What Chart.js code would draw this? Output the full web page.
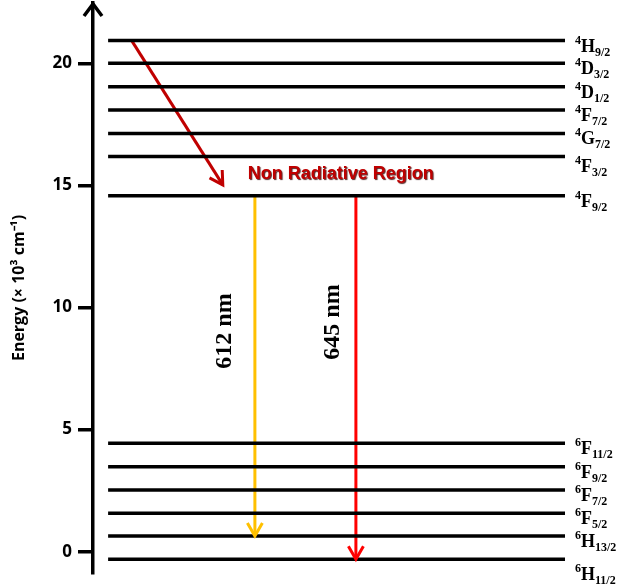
<!DOCTYPE html>
<html>
<head>
<meta charset="utf-8">
<script src="https://cdn.jsdelivr.net/npm/chart.js@4.4.1/dist/chart.umd.min.js"></script>
<style>
  html, body { margin: 0; padding: 0; background: #fff; }
  #wrap { width: 624px; height: 585px; }
</style>
</head>
<body>
<div id="wrap"><canvas id="levels" width="624" height="585"></canvas></div>
<script>
// Energy levels (x 10^3 cm^-1)
const levelMult = ['4', '4', '4', '4', '4', '4', '4', '6', '6', '6', '6', '6', '6'];
const levelTerm = ['H', 'D', 'D', 'F', 'G', 'F', 'F', 'F', 'F', 'F', 'F', 'H', 'H'];
const levelJ = ['9/2', '3/2', '1/2', '7/2', '7/2', '3/2', '9/2', '11/2', '9/2', '7/2', '5/2', '13/2', '11/2'];
const levelEnergy = [20.93, 20.0, 19.04, 18.09, 17.13, 16.18, 14.58, 4.44, 3.48, 2.53, 1.57, 0.64, -0.31];
const yTicks = [0, 5, 10, 15, 20];

// transitions (x in 0..100 across the diagram, y in energy units)
const arrowName = ['relax', '612 nm', '645 nm'];
const arrowX0 = [8.2, 34.3, 55.7];
const arrowX1 = [27.5, 34.3, 55.7];
const arrowE0 = [20.93, 14.58, 14.58];
const arrowE1 = [15.02, 0.64, -0.31];

const levelStart = 3.2, levelEnd = 100;
const arrowColors = ['#c00000', '#ffc000', '#ff0000'];

const datasets = [];
levelEnergy.forEach(function (e, i) {
  datasets.push({
    label: levelMult[i] + levelTerm[i] + levelJ[i],
    data: [{ x: levelStart, y: e }, { x: levelEnd, y: e }],
    borderColor: '#000',
    borderWidth: 3.5,
    pointRadius: 0
  });
});
arrowName.forEach(function (n, i) {
  datasets.push({
    label: n,
    isArrow: true,
    data: [{ x: arrowX0[i], y: arrowE0[i] }, { x: arrowX1[i], y: arrowE1[i] }],
    borderColor: arrowColors[i],
    borderWidth: 3,
    pointRadius: 0
  });
});

const extras = {
  id: 'extras',
  afterDatasetsDraw(chart) {
    const ctx = chart.ctx;
    const xs = chart.scales.x, ys = chart.scales.y;
    const area = chart.chartArea;
    ctx.save();

    // axis arrow head
    ctx.strokeStyle = '#000';
    ctx.lineWidth = 3.5;
    ctx.lineCap = 'butt';
    ctx.beginPath();
    ctx.moveTo(area.left - 9, area.top + 13);
    ctx.lineTo(area.left, area.top + 1);
    ctx.lineTo(area.left + 9, area.top + 13);
    ctx.stroke();

    // arrow heads on transitions
    chart.data.datasets.forEach(function (ds, di) {
      if (!ds.isArrow) return;
      const pts = chart.getDatasetMeta(di).data;
      const a = pts[0], b = pts[1];
      const ang = Math.atan2(b.y - a.y, b.x - a.x);
      const len = 15, spread = Math.PI / 6;
      ctx.strokeStyle = ds.borderColor;
      ctx.lineWidth = 3;
      ctx.beginPath();
      ctx.moveTo(b.x - len * Math.cos(ang - spread), b.y - len * Math.sin(ang - spread));
      ctx.lineTo(b.x, b.y);
      ctx.lineTo(b.x - len * Math.cos(ang + spread), b.y - len * Math.sin(ang + spread));
      ctx.stroke();
    });

    // level labels
    ctx.fillStyle = '#000';
    ctx.textAlign = 'left';
    ctx.textBaseline = 'alphabetic';
    levelEnergy.forEach(function (e, i) {
      let base = ys.getPixelForValue(e) + 11;
      if (i === 5) base += 4;
      if (i === 12) base += 10;
      let x = area.right + 10;
      ctx.font = 'bold 12px "Liberation Serif"';
      ctx.fillText(levelMult[i], x, base - 8);
      x += ctx.measureText(levelMult[i]).width;
      ctx.font = 'bold 18px "Liberation Serif"';
      ctx.fillText(levelTerm[i], x, base);
      x += ctx.measureText(levelTerm[i]).width;
      ctx.font = 'bold 12px "Liberation Serif"';
      ctx.fillText(levelJ[i], x, base + 4);
    });

    // non radiative region text
    ctx.font = 'bold 18px "Liberation Sans"';
    ctx.textAlign = 'center';
    ctx.shadowColor = 'rgba(60,0,0,0.85)';
    ctx.shadowOffsetX = 1;
    ctx.shadowOffsetY = 1;
    ctx.shadowBlur = 1;
    ctx.fillStyle = '#c00000';
    ctx.fillText('Non Radiative Region', xs.getPixelForValue(52.5), ys.getPixelForValue(15.25));
    ctx.shadowColor = 'transparent';

    // wavelength labels
    ctx.fillStyle = '#000';
    ctx.font = 'bold 24px "Liberation Serif"';
    ctx.textBaseline = 'middle';
    [[1, -30, 331], [2, -23, 322]].forEach(function (w) {
      const i = w[0];
      ctx.save();
      ctx.translate(xs.getPixelForValue(arrowX0[i]) + w[1], w[2]);
      ctx.rotate(-Math.PI / 2);
      ctx.fillText(arrowName[i], 0, 0);
      ctx.restore();
    });
    ctx.restore();
  }
};

new Chart(document.getElementById('levels'), {
  type: 'line',
  data: { datasets: datasets },
  plugins: [extras],
  options: {
    responsive: false,
    animation: false,
    events: [],
    layout: { padding: { top: 3, bottom: 12, left: 0, right: 59 } },
    plugins: { legend: { display: false }, tooltip: { enabled: false } },
    scales: {
      x: { type: 'linear', display: false, min: 0, max: 100 },
      y: {
        type: 'linear',
        min: -0.872,
        max: 22.47,
        afterFit: function (scale) {
          scale.width = 93;
          scale.paddingTop = 0;
          scale.paddingBottom = 0;
        },
        afterBuildTicks: function (scale) {
          scale.ticks = yTicks.map(function (v) { return { value: v }; });
        },
        border: { display: true, color: '#000', width: 3.5 },
        grid: { drawOnChartArea: false, color: '#000', lineWidth: 3.5, tickLength: 15 },
        ticks: {
          color: '#000',
          padding: 6,
          font: { family: 'Open Sans', weight: 'bold', size: 17 }
        },
        title: {
          display: true,
          text: 'Energy (× 10³ cm⁻¹)',
          color: '#000',
          font: { family: 'Open Sans', weight: 'bold', size: 16 },
          padding: { top: 10, bottom: 0 }
        }
      }
    }
  }
});
</script>
</body>
</html>
